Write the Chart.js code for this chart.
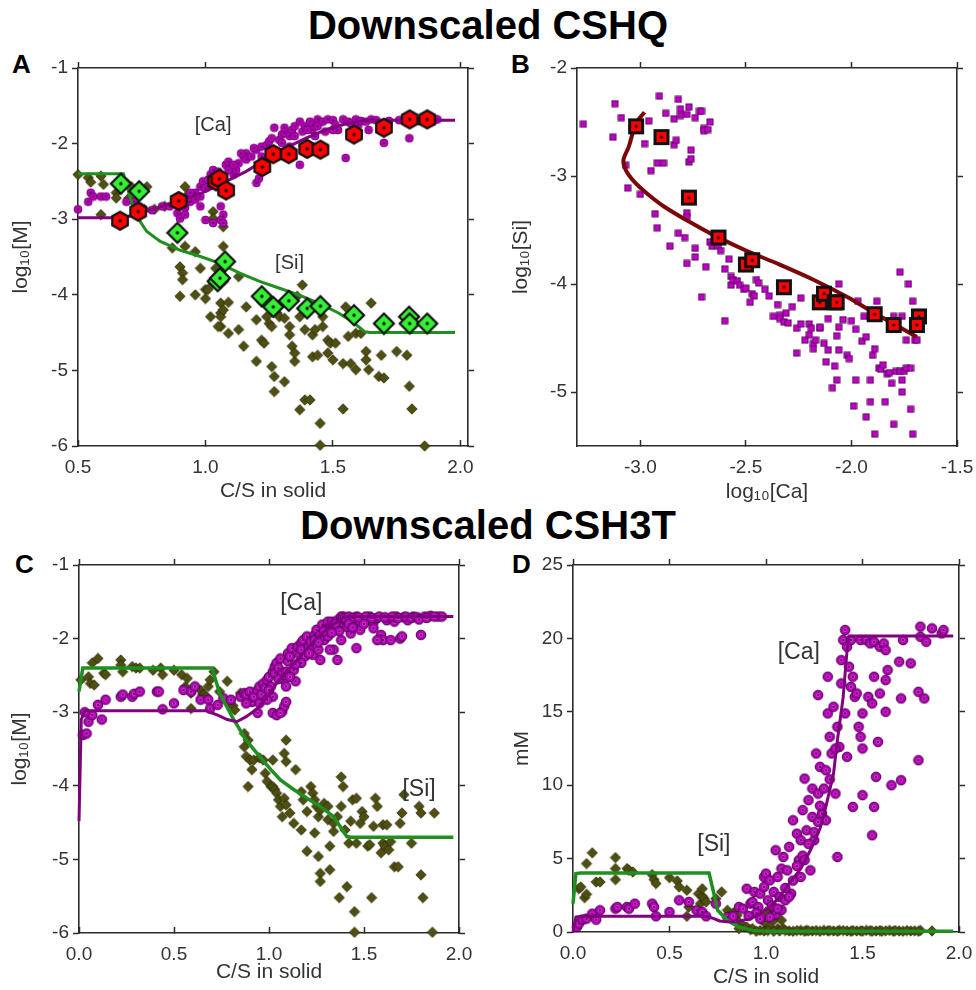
<!DOCTYPE html>
<html>
<head>
<meta charset="utf-8">
<script src="https://cdn.jsdelivr.net/npm/chart.js@4.4.1/dist/chart.umd.min.js"></script>
<style>
  body { margin: 0; background: #fff; font-family: 'Liberation Sans', Arial, sans-serif; }
  #page { position: relative; width: 976px; height: 990px; overflow: hidden; }
  .title { position: absolute; left: 0; width: 976px; text-align: center; font-weight: bold; font-size: 40px; line-height: 40px; color: #000; }
  .letter { position: absolute; font-weight: bold; font-size: 26px; line-height: 26px; color: #000; }
  canvas { position: absolute; }
</style>
</head>
<body>
<div id="page">
  <div class="title" style="top:5px">Downscaled CSHQ</div>
  <div class="title" style="top:505px">Downscaled CSH3T</div>
  <div class="letter" style="left:12px;top:51px">A</div>
  <div class="letter" style="left:511px;top:51px">B</div>
  <div class="letter" style="left:15px;top:551px">C</div>
  <div class="letter" style="left:512px;top:551px">D</div>
  <canvas id="chartA" width="480" height="460" style="left:0;top:50px"></canvas>
  <canvas id="chartB" width="496" height="460" style="left:480px;top:50px"></canvas>
  <canvas id="chartC" width="480" height="450" style="left:0;top:540px"></canvas>
  <canvas id="chartD" width="496" height="450" style="left:480px;top:540px"></canvas>
</div>
<script>
// ---- Panel A: downscaled CSHQ, log10 concentration vs C/S ----
const aCaData = [[0.50,-2.87],[0.54,-2.77],[0.55,-2.65],[0.56,-2.70],[0.59,-2.70],[0.61,-2.70],[0.69,-2.77],[0.72,-2.77],[0.74,-2.83],[0.79,-2.88],[0.83,-2.83],[0.86,-2.83],[0.89,-2.92],[0.90,-2.99],[0.92,-2.85],[0.92,-2.94],[0.94,-2.77],[0.96,-2.74],[0.96,-2.65],[0.98,-2.70],[0.98,-2.57],[0.99,-2.50],[1.01,-2.48],[1.02,-2.41],[1.03,-2.35],[1.04,-2.54],[1.05,-2.37],[1.06,-2.83],[1.07,-2.94],[1.06,-3.01],[1.07,-3.05],[1.03,-3.05],[1.00,-3.01],[0.98,-2.83],[1.08,-2.28],[1.09,-2.24],[1.11,-2.41],[1.12,-2.35],[1.13,-2.26],[1.15,-2.17],[1.16,-2.13],[1.16,-2.21],[1.18,-2.17],[1.20,-2.08],[1.20,-2.52],[1.21,-2.46],[1.22,-2.04],[1.24,-2.02],[1.25,-1.97],[1.26,-1.93],[1.27,-1.79],[1.28,-2.10],[1.29,-1.95],[1.30,-1.88],[1.31,-1.86],[1.33,-2.04],[1.33,-1.90],[1.34,-1.82],[1.35,-1.77],[1.37,-2.28],[1.38,-1.84],[1.39,-1.77],[1.41,-1.71],[1.42,-1.75],[1.42,-1.82],[1.43,-1.90],[1.44,-1.68],[1.44,-1.77],[1.46,-1.71],[1.47,-1.84],[1.48,-1.68],[1.50,-1.69],[1.51,-1.75],[1.52,-1.82],[1.54,-1.68],[1.55,-2.19],[1.56,-1.71],[1.57,-1.73],[1.59,-1.68],[1.60,-1.75],[1.61,-1.70],[1.63,-1.71],[1.64,-1.82],[1.65,-1.68],[1.70,-1.99],[1.80,-1.93],[1.81,-1.71],[1.89,-1.71],[1.90,-1.68],[1.91,-1.68],[0.92,-2.79],[0.94,-2.65],[1.00,-2.59],[1.03,-2.52],[1.09,-2.35],[1.11,-2.28],[1.14,-2.13],[1.19,-2.06],[1.22,-2.17],[1.26,-2.08],[1.30,-1.99],[1.31,-1.79],[1.35,-1.90],[1.37,-1.71],[1.40,-1.82],[1.50,-1.82],[1.67,-1.69],[1.72,-1.70],[1.76,-1.69],[1.84,-1.70],[1.86,-1.69]];
const aSiData = [[0.50,-2.41],[0.54,-2.45],[0.55,-2.51],[0.59,-2.94],[0.60,-2.54],[0.65,-2.65],[0.69,-2.52],[0.71,-2.57],[0.70,-2.72],[0.77,-2.57],[0.76,-2.87],[0.80,-2.87],[0.84,-2.83],[0.87,-3.38],[0.59,-2.43],[0.65,-2.72],[0.74,-2.57],[0.90,-3.63],[0.91,-3.71],[0.91,-3.80],[0.90,-4.02],[0.92,-3.36],[0.92,-2.57],[0.93,-2.68],[0.96,-3.43],[0.98,-3.65],[0.96,-4.00],[1.00,-3.93],[1.00,-4.05],[1.01,-3.93],[1.02,-4.29],[1.03,-3.85],[1.04,-3.65],[1.03,-2.90],[1.03,-2.99],[1.06,-4.11],[1.06,-4.24],[1.06,-4.29],[1.07,-4.20],[1.07,-3.36],[1.07,-3.10],[1.06,-4.42],[1.05,-4.42],[1.09,-4.10],[1.09,-4.51],[1.13,-3.76],[1.13,-4.46],[1.15,-4.68],[1.16,-4.16],[1.20,-4.33],[1.20,-4.88],[1.22,-4.60],[1.23,-4.64],[1.24,-4.29],[1.22,-4.09],[1.25,-4.38],[1.26,-4.42],[1.26,-4.95],[1.27,-5.08],[1.27,-5.28],[1.28,-4.24],[1.29,-4.29],[1.31,-4.31],[1.31,-5.15],[1.33,-4.42],[1.33,-4.53],[1.34,-4.68],[1.35,-4.88],[1.35,-4.77],[1.36,-4.02],[1.37,-4.29],[1.38,-3.87],[1.37,-5.52],[1.39,-5.39],[1.41,-5.39],[1.39,-4.46],[1.42,-4.82],[1.42,-4.53],[1.43,-4.46],[1.44,-4.80],[1.45,-5.70],[1.45,-5.99],[1.46,-4.29],[1.46,-4.42],[1.48,-4.77],[1.48,-4.60],[1.49,-4.64],[1.50,-4.86],[1.51,-4.64],[1.54,-4.91],[1.54,-5.51],[1.55,-4.16],[1.56,-4.55],[1.57,-4.91],[1.59,-4.99],[1.59,-4.51],[1.61,-4.51],[1.63,-4.75],[1.63,-4.86],[1.64,-4.99],[1.65,-4.11],[1.68,-5.08],[1.70,-5.10],[1.69,-4.80],[1.75,-4.75],[1.79,-4.80],[1.80,-5.21],[1.81,-5.51],[1.86,-6.00],[1.70,-4.46]];
const aCaDown = [[0.665,-3.02],[0.736,-2.90],[0.895,-2.76],[1.042,-2.50],[1.055,-2.465],[1.081,-2.62],[1.223,-2.31],[1.266,-2.14],[1.327,-2.14],[1.399,-2.07],[1.451,-2.08],[1.583,-1.88],[1.70,-1.79],[1.801,-1.68],[1.87,-1.68]];
const aSiDown = [[0.668,-2.53],[0.74,-2.63],[0.89,-3.18],[1.077,-3.56],[1.048,-3.82],[1.057,-3.78],[1.221,-4.02],[1.266,-4.16],[1.327,-4.08],[1.399,-4.18],[1.451,-4.15],[1.583,-4.27],[1.70,-4.38],[1.799,-4.29],[1.801,-4.38],[1.87,-4.38]];
const aCaModel = [[0.5,-2.98],[0.678,-2.98],[0.743,-2.92],[0.847,-2.81],[0.925,-2.73],[1.003,-2.63],[1.081,-2.50],[1.158,-2.37],[1.236,-2.21],[1.314,-2.06],[1.392,-1.93],[1.47,-1.82],[1.548,-1.74],[1.626,-1.69],[1.979,-1.69]];
const aSiModel = [[0.5,-2.40],[0.678,-2.40],[0.704,-2.70],[0.730,-2.96],[0.769,-3.16],[0.821,-3.29],[0.899,-3.41],[0.977,-3.49],[1.055,-3.58],[1.132,-3.71],[1.21,-3.82],[1.288,-3.91],[1.366,-4.00],[1.444,-4.11],[1.522,-4.24],[1.574,-4.35],[1.626,-4.49],[1.645,-4.50],[1.979,-4.50]];
const aXTicks = [0.5, 1.0, 1.5, 2.0];
const aYTicks = [-6, -5, -4, -3, -2, -1];
const aLabels = [{text: '[Ca]', x: 1.03, y: -1.76}, {text: '[Si]', x: 1.33, y: -3.58}];

// ---- Panel B: log10[Si] vs log10[Ca] ----
const bData = [[-3.27,-2.52],[-3.13,-2.64],[-3.12,-2.33],[-3.09,-2.46],[-3.07,-2.90],[-3.06,-3.11],[-3.00,-3.17],[-2.98,-2.70],[-2.96,-2.49],[-2.95,-2.95],[-2.93,-3.35],[-2.92,-2.88],[-2.92,-3.48],[-2.91,-2.26],[-2.89,-2.88],[-2.88,-2.42],[-2.86,-3.65],[-2.84,-2.71],[-2.84,-2.47],[-2.83,-2.67],[-2.82,-2.29],[-2.82,-3.53],[-2.81,-2.44],[-2.81,-2.38],[-2.79,-3.57],[-2.78,-3.34],[-2.78,-3.38],[-2.78,-3.81],[-2.78,-2.43],[-2.77,-2.36],[-2.77,-2.87],[-2.76,-2.76],[-2.76,-2.84],[-2.74,-2.46],[-2.74,-3.75],[-2.74,-3.67],[-2.72,-2.40],[-2.71,-2.40],[-2.70,-2.56],[-2.70,-2.58],[-2.68,-2.57],[-2.67,-2.50],[-2.71,-4.12],[-2.69,-3.84],[-2.67,-3.61],[-2.66,-3.65],[-2.63,-3.65],[-2.62,-3.69],[-2.60,-4.34],[-2.60,-3.86],[-2.58,-3.77],[-2.57,-3.93],[-2.57,-4.01],[-2.56,-3.96],[-2.54,-3.97],[-2.53,-4.01],[-2.51,-4.05],[-2.50,-4.04],[-2.48,-4.17],[-2.47,-4.09],[-2.46,-4.11],[-2.45,-3.96],[-2.44,-3.99],[-2.41,-4.05],[-2.39,-4.11],[-2.37,-4.30],[-2.35,-4.19],[-2.34,-4.29],[-2.34,-4.32],[-2.32,-4.35],[-2.31,-4.27],[-2.30,-4.36],[-2.28,-4.21],[-2.26,-4.64],[-2.26,-4.41],[-2.24,-4.37],[-2.24,-4.13],[-2.22,-4.52],[-2.20,-4.37],[-2.20,-4.47],[-2.19,-4.41],[-2.18,-4.55],[-2.18,-4.60],[-2.17,-4.52],[-2.15,-4.41],[-2.15,-4.40],[-2.13,-4.55],[-2.12,-4.72],[-2.11,-4.32],[-2.11,-4.61],[-2.09,-4.96],[-2.08,-4.76],[-2.07,-4.89],[-2.07,-4.48],[-2.06,-4.40],[-2.06,-4.61],[-2.06,-4.00],[-2.04,-4.33],[-2.02,-4.66],[-2.01,-4.69],[-2.00,-4.34],[-1.99,-5.13],[-1.98,-4.89],[-1.98,-4.42],[-1.97,-4.16],[-1.95,-4.53],[-1.94,-4.30],[-1.93,-5.23],[-1.93,-4.49],[-1.91,-5.09],[-1.91,-4.89],[-1.90,-4.66],[-1.89,-4.60],[-1.89,-5.39],[-1.88,-4.16],[-1.87,-4.78],[-1.86,-4.79],[-1.85,-4.75],[-1.84,-5.09],[-1.83,-4.83],[-1.82,-4.82],[-1.81,-4.92],[-1.80,-5.30],[-1.79,-4.81],[-1.80,-4.30],[-1.77,-4.81],[-1.77,-3.89],[-1.76,-4.89],[-1.76,-4.30],[-1.76,-5.00],[-1.75,-4.81],[-1.74,-4.52],[-1.74,-4.78],[-1.73,-4.00],[-1.72,-4.78],[-1.72,-5.16],[-1.71,-5.39],[-1.71,-4.16],[-1.70,-4.52],[-1.69,-4.52]];
const bDown = [[-3.02,-2.54],[-2.90,-2.64],[-2.77,-3.20],[-2.63,-3.57],[-2.50,-3.82],[-2.47,-3.78],[-2.32,-4.03],[-2.15,-4.17],[-2.13,-4.09],[-2.08,-4.17],[-2.07,-4.17],[-1.89,-4.28],[-1.80,-4.38],[-1.68,-4.30],[-1.69,-4.38]];
const bModel = [[-2.98,-2.41],[-3.02,-2.51],[-3.055,-2.73],[-3.08,-2.85],[-3.07,-2.94],[-3.03,-3.05],[-2.97,-3.16],[-2.89,-3.28],[-2.78,-3.41],[-2.65,-3.55],[-2.50,-3.69],[-2.34,-3.82],[-2.18,-3.96],[-2.02,-4.12],[-1.90,-4.26],[-1.79,-4.38],[-1.69,-4.49]];
const bXTicks = [-3.0, -2.5, -2.0, -1.5];
const bYTicks = [-5, -4, -3, -2];

// ---- Panel C: downscaled CSH3T, log10 concentration vs C/S ----
const cCaData = [[0.02,-3.31],[0.04,-3.29],[0.05,-3.13],[0.07,-3.04],[0.03,-3.00],[0.10,-2.90],[0.12,-3.10],[0.14,-2.83],[0.22,-2.79],[0.23,-2.76],[0.28,-2.79],[0.29,-2.75],[0.32,-2.72],[0.41,-2.72],[0.42,-2.72],[0.44,-2.96],[0.50,-2.88],[0.55,-2.70],[0.59,-2.72],[0.61,-2.65],[0.64,-2.83],[0.68,-2.83],[0.69,-2.95],[0.73,-2.90],[0.76,-2.81],[0.80,-2.83],[0.85,-2.79],[0.87,-2.74],[0.88,-2.76],[0.90,-2.72],[0.91,-2.86],[0.92,-2.79],[0.94,-2.70],[0.95,-2.65],[0.95,-2.88],[0.96,-2.76],[0.97,-2.61],[0.98,-2.67],[0.99,-2.56],[1.00,-2.52],[1.01,-2.65],[1.02,-2.45],[1.03,-2.38],[1.03,-2.47],[1.04,-2.33],[1.05,-2.40],[1.06,-2.27],[1.07,-2.47],[1.08,-2.56],[1.09,-2.45],[1.10,-2.31],[1.10,-2.20],[1.11,-2.24],[1.12,-2.13],[1.13,-2.43],[1.14,-2.58],[1.15,-2.11],[1.16,-2.22],[1.17,-2.06],[1.17,-2.15],[1.18,-2.02],[1.19,-2.24],[1.20,-1.97],[1.21,-2.11],[1.22,-2.04],[1.23,-2.22],[1.24,-1.95],[1.24,-2.02],[1.25,-1.88],[1.26,-2.15],[1.27,-1.95],[1.28,-1.81],[1.29,-2.02],[1.30,-1.88],[1.31,-1.77],[1.31,-1.97],[1.32,-1.86],[1.33,-1.77],[1.34,-1.81],[1.36,-1.75],[1.38,-1.70],[1.38,-1.84],[1.39,-1.70],[1.41,-1.77],[1.43,-1.93],[1.45,-1.75],[1.46,-1.70],[1.48,-1.77],[1.50,-1.72],[1.52,-1.75],[1.53,-1.70],[1.55,-1.78],[1.57,-1.72],[1.59,-1.95],[1.60,-2.02],[1.62,-1.75],[1.64,-1.72],[1.66,-1.77],[1.67,-1.70],[1.69,-2.00],[1.71,-1.71],[1.73,-1.75],[1.76,-1.70],[1.80,-1.95],[1.82,-1.70],[1.85,-1.69],[1.89,-1.70],[1.91,-1.70],[1.38,-2.02],[1.46,-2.13],[1.34,-2.15],[1.41,-1.84],[1.48,-1.88],[1.55,-1.86],[1.57,-2.02],[1.64,-2.02],[1.70,-1.97],[1.32,-2.15],[1.27,-2.29],[1.17,-2.33],[1.11,-2.52],[1.09,-2.65],[1.02,-2.79],[1.02,-3.01],[1.04,-3.04],[1.07,-2.99],[1.08,-2.92],[1.09,-2.86],[1.06,-3.01],[0.99,-2.83],[0.94,-3.01],[0.88,-2.88],[1.36,-2.29],[1.40,-1.72],[1.42,-1.70],[1.44,-1.72],[1.47,-1.71],[1.51,-1.70],[1.54,-1.72],[1.58,-1.70],[1.61,-1.71],[1.65,-1.70],[1.68,-1.72],[1.72,-1.70],[1.75,-1.72],[1.78,-1.71],[1.79,-1.74],[1.83,-1.72],[1.87,-1.70],[1.35,-1.80],[1.37,-1.90],[1.42,-1.80],[1.50,-1.80],[1.44,-1.85],[1.21,-2.20],[1.26,-2.05],[1.29,-1.90],[1.33,-1.92],[1.14,-2.35],[1.05,-2.55],[1.00,-2.70]];
const cSiData = [[0.01,-2.56],[0.05,-2.52],[0.06,-2.61],[0.07,-2.33],[0.08,-2.63],[0.10,-2.27],[0.13,-2.47],[0.14,-2.49],[0.22,-2.29],[0.22,-2.36],[0.23,-2.45],[0.28,-2.38],[0.30,-2.40],[0.32,-2.40],[0.39,-2.43],[0.43,-2.40],[0.44,-2.49],[0.50,-2.43],[0.54,-2.49],[0.56,-2.65],[0.57,-2.54],[0.59,-2.74],[0.59,-2.95],[0.64,-2.70],[0.65,-2.76],[0.66,-2.76],[0.67,-2.79],[0.68,-2.65],[0.69,-2.56],[0.71,-2.45],[0.74,-2.72],[0.78,-2.58],[0.79,-2.88],[0.81,-2.91],[0.82,-2.97],[0.85,-2.74],[0.87,-3.29],[0.89,-3.38],[0.87,-3.47],[0.88,-3.60],[0.90,-3.65],[0.91,-3.78],[0.89,-4.01],[0.92,-3.65],[0.95,-3.62],[0.97,-3.65],[0.98,-3.83],[0.99,-3.94],[1.01,-4.01],[1.02,-3.65],[1.02,-4.01],[1.03,-4.05],[1.04,-4.10],[1.05,-4.19],[1.06,-4.28],[1.07,-4.42],[1.08,-3.56],[1.09,-3.38],[1.09,-3.67],[1.08,-4.17],[1.09,-4.26],[1.11,-4.37],[1.13,-4.51],[1.14,-3.78],[1.17,-4.08],[1.17,-4.60],[1.18,-4.19],[1.20,-4.35],[1.20,-4.89],[1.22,-4.01],[1.23,-4.10],[1.24,-4.64],[1.24,-4.19],[1.25,-4.28],[1.26,-4.42],[1.27,-4.33],[1.26,-4.96],[1.27,-5.19],[1.27,-5.30],[1.29,-4.24],[1.31,-4.46],[1.31,-4.28],[1.32,-4.82],[1.32,-5.14],[1.34,-4.51],[1.34,-4.62],[1.36,-4.42],[1.37,-5.52],[1.38,-4.28],[1.38,-3.88],[1.39,-4.01],[1.40,-4.60],[1.41,-5.37],[1.42,-4.78],[1.43,-4.48],[1.44,-4.19],[1.45,-5.71],[1.45,-5.99],[1.46,-4.17],[1.46,-4.78],[1.48,-4.51],[1.49,-4.35],[1.50,-4.42],[1.52,-4.82],[1.53,-4.80],[1.54,-5.52],[1.55,-4.55],[1.56,-4.17],[1.57,-4.28],[1.59,-4.91],[1.60,-4.78],[1.60,-4.53],[1.61,-4.82],[1.62,-4.53],[1.63,-4.87],[1.64,-4.76],[1.66,-5.10],[1.68,-5.10],[1.69,-4.51],[1.70,-4.37],[1.71,-4.12],[1.75,-4.78],[1.79,-4.28],[1.80,-4.37],[1.80,-5.21],[1.81,-5.52],[1.87,-4.37],[1.86,-5.99]];
const cCaModel = [[0.0,-4.48],[0.012,-3.10],[0.03,-2.98],[0.67,-2.98],[0.73,-3.04],[0.78,-3.10],[0.83,-3.13],[0.88,-3.06],[0.94,-2.95],[0.99,-2.79],[1.04,-2.61],[1.09,-2.45],[1.15,-2.29],[1.20,-2.13],[1.25,-2.00],[1.31,-1.86],[1.36,-1.77],[1.39,-1.71],[1.45,-1.70],[1.97,-1.70]];
const cSiModel = [[0.0,-2.72],[0.02,-2.40],[0.70,-2.40],[0.74,-2.74],[0.81,-3.08],[0.88,-3.38],[0.95,-3.60],[1.01,-3.78],[1.06,-3.92],[1.13,-4.05],[1.20,-4.17],[1.27,-4.28],[1.34,-4.42],[1.41,-4.69],[1.43,-4.70],[1.97,-4.70]];
const cXTicks = [0.0, 0.5, 1.0, 1.5, 2.0];
const cYTicks = [-6, -5, -4, -3, -2, -1];
const cLabels = [{text: '[Ca]', x: 1.17, y: -1.52}, {text: '[Si]', x: 1.79, y: -4.05}];

// ---- Panel D: mM vs C/S ----
const dCaData = [[0.02,0.34],[0.03,0.57],[0.05,0.84],[0.07,0.91],[0.10,1.25],[0.12,0.84],[0.14,1.48],[0.22,1.59],[0.23,1.70],[0.28,1.70],[0.29,1.59],[0.32,1.93],[0.41,1.93],[0.42,1.70],[0.43,1.07],[0.50,1.36],[0.55,2.16],[0.60,2.05],[0.64,1.48],[0.67,1.36],[0.69,1.07],[0.74,1.93],[0.80,1.02],[0.83,1.07],[0.86,1.70],[0.88,1.59],[0.90,2.95],[0.92,1.93],[0.93,2.05],[0.94,2.73],[0.96,1.70],[0.97,2.61],[0.99,3.75],[0.99,3.07],[1.00,3.98],[1.01,2.16],[1.02,3.52],[1.04,2.73],[1.05,5.57],[1.06,3.75],[1.07,2.39],[1.08,4.32],[1.09,5.11],[1.10,2.16],[1.11,4.20],[1.12,5.80],[1.13,2.61],[1.14,7.61],[1.16,6.70],[1.17,4.89],[1.18,3.75],[1.18,6.25],[1.19,8.30],[1.20,10.45],[1.21,6.93],[1.22,8.98],[1.23,4.20],[1.24,9.77],[1.24,7.84],[1.25,6.25],[1.26,12.16],[1.27,16.14],[1.27,9.43],[1.28,11.25],[1.29,8.07],[1.30,9.77],[1.31,7.61],[1.31,11.02],[1.32,17.39],[1.32,14.89],[1.33,13.30],[1.34,12.16],[1.35,15.34],[1.36,9.43],[1.37,13.98],[1.37,5.11],[1.38,12.61],[1.39,18.52],[1.39,16.93],[1.40,19.89],[1.41,20.57],[1.41,14.89],[1.42,19.43],[1.42,11.93],[1.43,18.07],[1.44,16.70],[1.44,19.89],[1.45,17.39],[1.45,8.52],[1.46,16.02],[1.47,16.25],[1.48,13.98],[1.49,19.89],[1.49,13.30],[1.50,14.89],[1.50,12.50],[1.50,9.32],[1.52,19.89],[1.53,16.02],[1.54,19.66],[1.55,15.57],[1.55,6.59],[1.56,17.39],[1.56,19.77],[1.56,8.52],[1.57,10.57],[1.58,12.95],[1.59,19.43],[1.59,16.25],[1.61,19.66],[1.62,19.20],[1.62,17.16],[1.62,15.00],[1.63,17.84],[1.65,10.00],[1.69,18.41],[1.70,10.34],[1.70,15.91],[1.71,19.89],[1.75,18.30],[1.79,16.36],[1.79,11.70],[1.80,20.11],[1.80,20.80],[1.82,15.91],[1.83,19.77],[1.86,20.68],[1.91,20.34],[1.92,20.57],[1.03,1.80],[1.05,1.20],[1.08,1.50],[1.10,3.00],[1.14,3.50],[1.16,4.50],[1.19,5.20],[1.22,6.00],[1.25,6.80],[1.27,7.50],[0.95,1.30],[0.91,1.10],[0.97,0.90],[1.02,1.00],[1.06,1.60],[1.12,2.40],[1.20,4.90],[1.28,8.60],[1.33,10.40],[1.36,12.50]];
const dSiData = [[0.03,2.95],[0.04,3.07],[0.06,2.34],[0.07,2.57],[0.07,4.66],[0.10,5.39],[0.12,3.41],[0.14,3.41],[0.22,5.07],[0.22,3.57],[0.22,4.32],[0.28,4.32],[0.29,4.20],[0.31,4.09],[0.41,3.91],[0.42,3.57],[0.43,3.30],[0.50,3.70],[0.54,3.48],[0.55,3.07],[0.59,2.84],[0.60,1.70],[0.65,2.61],[0.66,1.93],[0.67,2.43],[0.67,2.95],[0.68,2.27],[0.69,2.05],[0.74,2.27],[0.77,2.73],[0.59,1.07],[0.80,1.48],[0.83,1.30],[0.85,1.14],[0.86,0.68],[0.89,0.34],[0.90,0.34],[0.92,0.16],[0.93,0.23],[0.97,0.11],[0.99,0.07],[1.02,0.34],[1.04,0.80],[1.06,0.23],[1.07,0.07],[1.09,0.23],[1.12,0.07],[1.18,0.11],[1.21,0.11],[1.24,0.07],[1.30,0.11],[1.35,0.07],[1.38,0.11],[1.42,0.07],[1.47,0.07],[1.52,0.11],[1.57,0.07],[1.64,0.11],[1.69,0.07],[1.75,0.07],[1.80,0.11],[1.86,0.07],[1.08,0.80],[1.02,1.25],[1.00,1.36],[0.99,0.68],[0.86,0.23],[0.95,0.05],[1.01,0.10],[1.04,0.05],[1.10,0.10],[1.14,0.05],[1.16,0.10],[1.20,0.05],[1.22,0.08],[1.26,0.10],[1.28,0.05],[1.32,0.08],[1.33,0.10],[1.37,0.05],[1.40,0.10],[1.44,0.05],[1.45,0.10],[1.49,0.08],[1.50,0.05],[1.54,0.10],[1.55,0.05],[1.59,0.10],[1.60,0.05],[1.62,0.08],[1.66,0.05],[1.67,0.10],[1.71,0.05],[1.73,0.10],[1.77,0.08],[1.79,0.05]];
const dCaModel = [[0.0,0.0],[0.015,1.02],[0.04,1.07],[0.69,1.07],[0.73,0.91],[0.76,0.75],[0.81,0.68],[0.86,0.73],[0.92,0.91],[0.97,1.25],[1.02,1.70],[1.07,2.39],[1.12,3.30],[1.18,4.32],[1.23,5.57],[1.28,7.05],[1.31,8.52],[1.35,10.80],[1.37,13.07],[1.40,16.02],[1.42,19.20],[1.43,20.16],[1.97,20.16]];
const dSiModel = [[0.0,1.93],[0.015,3.98],[0.04,4.02],[0.705,4.02],[0.73,2.61],[0.75,1.48],[0.80,0.80],[0.86,0.34],[0.93,0.11],[1.00,0.05],[1.97,0.05]];
const dXTicks = [0.0, 0.5, 1.0, 1.5, 2.0];
const dYTicks = [0, 5, 10, 15, 20, 25];
const dLabels = [{text: '[Ca]', x: 1.17, y: 19.0}, {text: '[Si]', x: 0.73, y: 5.98}];

const FONT = "'Liberation Sans', Arial, sans-serif";
const INK = '#333';
const FRAME = '#2b2b2b';

// marker images
function marker(size, draw) {
    const c = document.createElement('canvas');
    c.width = size; c.height = size;
    const g = c.getContext('2d');
    g.translate(size / 2, size / 2);
    draw(g);
    return c;
}
function dot(g, r, color) {
    g.beginPath(); g.arc(0, 0, r, 0, Math.PI * 2); g.fillStyle = color; g.fill();
}
function diamond(g, h) {
    g.beginPath(); g.moveTo(0, -h); g.lineTo(h, 0); g.lineTo(0, h); g.lineTo(-h, 0); g.closePath();
}

const hexRed = marker(22, g => {
    g.beginPath();
    for (let k = 0; k < 6; k++) {
        const a = Math.PI / 180 * (60 * k - 90);
        g.lineTo(9 * Math.cos(a), 9 * Math.sin(a));
    }
    g.closePath();
    g.fillStyle = '#ff0000'; g.fill();
    g.lineWidth = 2.2; g.strokeStyle = '#111'; g.stroke();
    dot(g, 1.7, '#111');
});
const diamondGreen = marker(24, g => {
    diamond(g, 10);
    g.fillStyle = '#33f033'; g.fill();
    g.lineWidth = 2.2; g.strokeStyle = '#111'; g.stroke();
    dot(g, 1.7, '#111');
});
const squareRed = marker(18, g => {
    g.fillStyle = '#111'; g.fillRect(-8, -8, 16, 16);
    g.fillStyle = '#ff0000'; g.fillRect(-5, -5, 10, 10);
    dot(g, 1.6, '#111');
});
const squareSmall = marker(8, g => {
    g.fillStyle = '#5a005a'; g.fillRect(-3.5, -3.5, 7, 7);
    g.fillStyle = '#c000c8'; g.fillRect(-2.6, -2.6, 5.2, 5.2);
});
const circleSmall = marker(10, g => {
    g.beginPath(); g.arc(0, 0, 4, 0, Math.PI * 2);
    g.fillStyle = '#b800b8'; g.fill();
    g.lineWidth = 0.8; g.strokeStyle = '#6a006a'; g.stroke();
    dot(g, 1, '#4a004a');
});
const circleBig = marker(12, g => {
    g.beginPath(); g.arc(0, 0, 4.8, 0, Math.PI * 2);
    g.fillStyle = '#b400b8'; g.fill();
    g.lineWidth = 1; g.strokeStyle = '#4a004a'; g.stroke();
    dot(g, 2, '#d840d8');
    dot(g, 1.1, '#3a003a');
});
const diamondOlive = marker(12, g => {
    diamond(g, 5.2);
    g.fillStyle = '#4f4f12'; g.fill();
    g.lineWidth = 0.8; g.strokeStyle = '#2a2a06'; g.stroke();
});

function pts(arr) {
    return arr.map(p => ({x: p[0], y: p[1]}));
}
function scatterSet(arr, style) {
    return {data: pts(arr), pointStyle: style, pointRadius: 4, showLine: false, clip: false};
}
function lineSet(arr, color, width, tension) {
    return {data: pts(arr), showLine: true, borderColor: color, borderWidth: width,
            pointRadius: 0, tension: tension || 0, fill: false, clip: false};
}

// draws [Ca] / [Si] labels at data positions
const panelText = {
    id: 'panelText',
    afterDatasetsDraw(chart, args, opts) {
        if (!opts.items) return;
        const {ctx, scales} = chart;
        ctx.save();
        ctx.font = opts.size + 'px ' + FONT;
        ctx.fillStyle = INK;
        ctx.textAlign = 'center';
        ctx.textBaseline = 'middle';
        opts.items.forEach(t => {
            ctx.fillText(t.text, scales.x.getPixelForValue(t.x), scales.y.getPixelForValue(t.y));
        });
        ctx.restore();
    }
};

// horizontal axes have their tick marks pointing up (inside at the bottom, outside at the top)
function axis(pos, min, max, ticks, fmt, size, title, titlePad) {
    const horizontal = pos === 'top' || pos === 'bottom';
    const main = pos === 'bottom' || pos === 'left';
    const tickLen = pos === 'bottom' ? -6 : 6;
    return {
        type: 'linear', position: pos, min: min, max: max,
        afterBuildTicks: s => { s.ticks = ticks.map(v => ({value: v})); },
        afterFit: s => {
            if (horizontal) s.height = size; else s.width = size;
            // fixed frame: no extra room for overhanging end labels
            s.paddingLeft = s.paddingRight = s.paddingTop = s.paddingBottom = 0;
        },
        ticks: {display: main, callback: fmt, color: INK, padding: pos === 'bottom' ? 16 : 4,
                autoSkip: false, maxRotation: 0, font: {family: FONT, size: 19}},
        grid: {drawOnChartArea: false, drawTicks: true, tickLength: tickLen, tickWidth: 1.5, tickColor: FRAME},
        border: {display: true, color: FRAME, width: 1.6},
        title: {display: main && !!title, text: title, color: INK, font: {family: FONT, size: 21},
                padding: horizontal ? {top: 0, bottom: titlePad} : {top: titlePad, bottom: 0}}
    };
}

const fmt1 = v => v.toFixed(1);
const fmt0 = v => String(v);

function makeChart(id, datasets, s, labels, labelSize) {
    new Chart(document.getElementById(id), {
        type: 'scatter',
        data: {datasets: datasets},
        options: {
            responsive: false, animation: false, events: [],
            layout: {padding: 0},
            plugins: {legend: {display: false}, tooltip: {enabled: false},
                      panelText: {items: labels, size: labelSize}},
            scales: {
                x: axis('bottom', s.xMin, s.xMax, s.xTicks, s.xFmt, s.bottom, s.xTitle, s.xPad),
                y: axis('left', s.yMin, s.yMax, s.yTicks, s.yFmt, s.left, s.yTitle, s.yPad),
                x2: axis('top', s.xMin, s.xMax, s.xTicks, s.xFmt, s.top),
                y2: axis('right', s.yMin, s.yMax, s.yTicks, s.yFmt, s.right)
            }
        },
        plugins: [panelText]
    });
}

makeChart('chartA', [
    scatterSet(aCaDown, hexRed),
    scatterSet(aSiDown, diamondGreen),
    lineSet(aCaModel, '#800080', 3),
    lineSet(aSiModel, '#1f8f1f', 3),
    scatterSet(aCaData, circleSmall),
    scatterSet(aSiData, diamondOlive)
], {xMin: 0.5, xMax: 2.03, xTicks: aXTicks, xFmt: fmt1, yMin: -6, yMax: -1, yTicks: aYTicks, yFmt: fmt0,
    left: 78, right: 12, top: 18, bottom: 64, xTitle: 'C/S in solid', yTitle: 'log₁₀[M]', xPad: 6, yPad: 9},
   aLabels, 20);

makeChart('chartB', [
    scatterSet(bDown, squareRed),
    lineSet(bModel, '#7a0808', 4, 0.35),
    scatterSet(bData, squareSmall)
], {xMin: -3.3, xMax: -1.5, xTicks: bXTicks, xFmt: fmt1, yMin: -5.5, yMax: -2, yTicks: bYTicks, yFmt: fmt0,
    left: 97, right: 19, top: 18, bottom: 64, xTitle: 'log₁₀[Ca]', yTitle: 'log₁₀[Si]', xPad: 5, yPad: 29},
   [], 20);

makeChart('chartC', [
    lineSet(cCaModel, '#800080', 3),
    lineSet(cSiModel, '#1f8f1f', 3.5),
    scatterSet(cCaData, circleBig),
    scatterSet(cSiData, diamondOlive)
], {xMin: 0, xMax: 2.0, xTicks: cXTicks, xFmt: fmt1, yMin: -6, yMax: -1, yTicks: cYTicks, yFmt: fmt0,
    left: 79, right: 21, top: 25, bottom: 57, xTitle: 'C/S in solid', yTitle: 'log₁₀[M]', xPad: 5, yPad: 8},
   cLabels, 23);

makeChart('chartD', [
    lineSet(dCaModel, '#800080', 3),
    lineSet(dSiModel, '#1f8f1f', 3.5),
    scatterSet(dCaData, circleBig),
    scatterSet(dSiData, diamondOlive)
], {xMin: 0, xMax: 2.0, xTicks: dXTicks, xFmt: fmt1, yMin: 0, yMax: 25, yTicks: dYTicks, yFmt: fmt0,
    left: 93, right: 17, top: 25, bottom: 58, xTitle: 'C/S in solid', yTitle: 'mM', xPad: 0, yPad: 30},
   dLabels, 23);
</script>
</body>
</html>
